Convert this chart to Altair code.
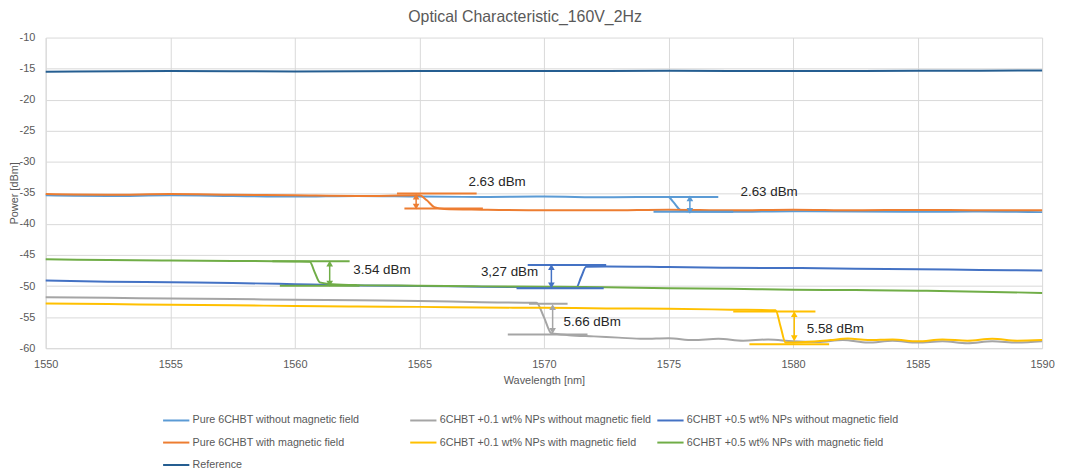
import altair as alt
import pandas as pd

# ---------------- data ----------------
SERIES = [
    "Pure 6CHBT without magnetic field",
    "6CHBT +0.1 wt% NPs without magnetic field",
    "6CHBT +0.5 wt% NPs without magnetic field",
    "Pure 6CHBT with magnetic field",
    "6CHBT +0.1 wt% NPs with magnetic field",
    "6CHBT +0.5 wt% NPs with magnetic field",
    "Reference",
]
COLORS = ["#5B9BD5", "#A5A5A5", "#4472C4", "#ED7D31", "#FFC000", "#70AD47", "#255E91"]

pure_off_x = [1550, 1552.5, 1555, 1557.5, 1560, 1562.5, 1565, 1567.5, 1570, 1572.5, 1575, 1575.2, 1575.5, 1576, 1577.5, 1580, 1582.5, 1585, 1587.5, 1590]
pure_off_y = [-35.4, -35.5, -35.4, -35.5, -35.6, -35.5, -35.6, -35.65, -35.6, -35.7, -35.65, -36.5, -37.8, -38.0, -38.05, -37.95, -38.0, -38.05, -38.0, -38.1]

pure_on_x = [1550, 1552.5, 1555, 1557.5, 1560, 1562.5, 1565, 1565.3, 1565.6, 1566, 1567.5, 1570, 1572.5, 1575, 1577.5, 1580, 1582.5, 1585, 1587.5, 1590]
pure_on_y = [-35.2, -35.3, -35.2, -35.3, -35.4, -35.5, -35.4, -36.2, -37.3, -37.6, -37.7, -37.8, -37.8, -37.7, -37.8, -37.7, -37.8, -37.75, -37.8, -37.8]

np01_off_x = [1550, 1552.5, 1555, 1557.5, 1560, 1562.5, 1565, 1567.5, 1569.7, 1570, 1570.3, 1571, 1572, 1573, 1574, 1575, 1576, 1577, 1578, 1579, 1580, 1581, 1582, 1583, 1584, 1585, 1586, 1587, 1588, 1589, 1590]
np01_off_y = [-51.8, -51.9, -52.0, -52.1, -52.2, -52.3, -52.4, -52.6, -52.7, -55.0, -57.6, -57.9, -58.1, -58.3, -58.5, -58.4, -58.7, -58.5, -58.8, -58.6, -58.9, -59.0, -58.7, -59.1, -58.8, -59.1, -58.9, -59.2, -58.9, -59.1, -58.9]

np01_on_x = [1550, 1552.5, 1555, 1557.5, 1560, 1562.5, 1565, 1567.5, 1570, 1572.5, 1575, 1577.5, 1579.3, 1579.5, 1579.7, 1580.5, 1581.5, 1582.2, 1583, 1584, 1585, 1586, 1587, 1588, 1589, 1590]
np01_on_y = [-52.8, -52.9, -53.0, -53.1, -53.2, -53.3, -53.35, -53.45, -53.5, -53.6, -53.65, -53.8, -53.9, -56.5, -59.1, -59.0, -58.7, -58.45, -58.7, -58.6, -58.9, -58.6, -58.8, -58.5, -58.8, -58.7]

np05_off_x = [1550, 1552.5, 1555, 1557.5, 1560, 1562.5, 1565, 1567.5, 1570, 1571.3, 1571.5, 1571.7, 1572.5, 1575, 1577.5, 1580, 1582.5, 1585, 1587.5, 1590]
np05_off_y = [-49.1, -49.3, -49.4, -49.5, -49.7, -49.9, -50.0, -50.1, -50.2, -50.25, -48.5, -46.9, -46.85, -46.95, -47.05, -47.1, -47.2, -47.3, -47.4, -47.5]

np05_on_x = [1550, 1552.5, 1555, 1557.5, 1560, 1560.6, 1560.8, 1561.0, 1561.5, 1562.5, 1565, 1567.5, 1570, 1572.5, 1575, 1577.5, 1580, 1582.5, 1585, 1587.5, 1590]
np05_on_y = [-45.7, -45.8, -45.9, -45.95, -46.05, -46.1, -47.8, -49.4, -49.7, -49.85, -49.95, -50.05, -50.1, -50.2, -50.35, -50.45, -50.6, -50.65, -50.75, -50.9, -51.1]

ref_x = [1550, 1555, 1560, 1565, 1570, 1575, 1580, 1585, 1590]
ref_y = [-15.5, -15.4, -15.45, -15.4, -15.4, -15.35, -15.4, -15.35, -15.3]

# annotation guide segments (horizontal level lines)
seg_series = [SERIES[3], SERIES[3], SERIES[0], SERIES[0], SERIES[5], SERIES[5],
              SERIES[2], SERIES[2], SERIES[1], SERIES[1], SERIES[4], SERIES[4]]
seg_x1 = [1564.1, 1564.4, 1573.85, 1574.4, 1559.1, 1559.4, 1569.35, 1568.9, 1569.4, 1568.55, 1577.6, 1578.25]
seg_x2 = [1567.3, 1567.55, 1577.0, 1577.6, 1562.2, 1562.6, 1572.5, 1572.4, 1570.95, 1571.75, 1580.9, 1581.45]
seg_y = [-35.1, -37.5, -35.65, -38.05, -46.0, -49.95, -46.6, -50.35, -52.85, -57.8, -54.1, -59.35]

# double arrows
arr_series = [SERIES[3], SERIES[0], SERIES[5], SERIES[2], SERIES[1], SERIES[4]]
arr_x = [1564.87, 1575.86, 1561.4, 1570.3, 1570.35, 1580.05]
arr_top = [-35.6, -35.9, -46.4, -46.95, -53.4, -54.5]
arr_bottom = [-37.2, -37.9, -49.6, -49.9, -57.2, -58.4]

# labels
lab_text = ["2.63 dBm", "2.63 dBm", "3.54 dBm", "3,27 dBm", "5.66 dBm", "5.58 dBm"]
lab_x = [1568.12, 1579.04, 1563.5, 1568.62, 1571.94, 1581.7]
lab_y = [-33.27, -34.85, -47.5, -47.8, -55.8, -56.85]

x_ticks = [1550, 1555, 1560, 1565, 1570, 1575, 1580, 1585, 1590]
y_ticks = [-60, -55, -50, -45, -40, -35, -30, -25, -20, -15, -10]

# ---------------- frames ----------------
series_data = [
    (SERIES[0], pure_off_x, pure_off_y),
    (SERIES[3], pure_on_x, pure_on_y),
    (SERIES[1], np01_off_x, np01_off_y),
    (SERIES[4], np01_on_x, np01_on_y),
    (SERIES[2], np05_off_x, np05_off_y),
    (SERIES[5], np05_on_x, np05_on_y),
    (SERIES[6], ref_x, ref_y),
]
rows = []
for name, xs, ys in series_data:
    for xv, yv in zip(xs, ys):
        rows.append({"series": name, "wl": xv, "p": yv})
df = pd.DataFrame(rows)

seg_df = pd.DataFrame({"series": seg_series, "x1": seg_x1, "x2": seg_x2, "y": seg_y})
arr_df = pd.DataFrame({"series": arr_series, "x": arr_x, "top": arr_top, "bottom": arr_bottom})
lab_df = pd.DataFrame({"text": lab_text, "x": lab_x, "y": lab_y})

FONT = "Liberation Sans"
GREY = "#595959"

color_scale = alt.Scale(domain=SERIES, range=COLORS)

xscale = alt.Scale(domain=[1550, 1590], nice=False, zero=False)
yscale = alt.Scale(domain=[-60, -10], nice=False, zero=False)

x_axis = alt.Axis(values=x_ticks, format="d", title="Wavelength [nm]", grid=True, ticks=False, tickSize=0,
                  labelPadding=10, titlePadding=6, labelFont=FONT, labelFontSize=11,
                  labelColor=GREY, titleFont=FONT, titleFontSize=11, titleColor=GREY,
                  titleFontWeight="normal", domainColor="#d9d9d9", gridColor="#d9d9d9",
                  labelFlush=False, labelOverlap=False)
y_axis = alt.Axis(values=y_ticks, labelExpr="datum.value + ''", title="Power [dBm]", grid=True,
                  ticks=False, tickSize=0,
                  labelPadding=11, titlePadding=0, labelFont=FONT, labelFontSize=11,
                  labelColor=GREY, titleFont=FONT, titleFontSize=11, titleColor=GREY,
                  titleFontWeight="normal", domainColor="#d9d9d9", gridColor="#d9d9d9",
                  labelFlush=False, labelOverlap=False)

legend = alt.Legend(orient="none", legendX=117, legendY=371, columns=3, direction="horizontal",
                    title=None, values=SERIES,
                    symbolType="stroke", symbolSize=700, symbolStrokeWidth=2,
                    labelFont=FONT, labelFontSize=10.8, labelColor=GREY, labelLimit=400,
                    gridAlign="all", columnPadding=1, rowPadding=2.6, labelOffset=2)

lines = alt.Chart(df).mark_line(strokeWidth=2, interpolate="monotone").encode(
    x=alt.X("wl:Q", scale=xscale, axis=x_axis),
    y=alt.Y("p:Q", scale=yscale, axis=y_axis),
    color=alt.Color("series:N", scale=color_scale, legend=legend),
)

segs = alt.Chart(seg_df).mark_rule(strokeWidth=2).encode(
    x=alt.X("x1:Q", scale=xscale, axis=x_axis),
    x2="x2:Q",
    y=alt.Y("y:Q", scale=yscale, axis=y_axis),
    color=alt.Color("series:N", scale=color_scale, legend=None),
)

arr_line = alt.Chart(arr_df).mark_rule(strokeWidth=1.5).encode(
    x=alt.X("x:Q", scale=xscale, axis=x_axis),
    y=alt.Y("top:Q", scale=yscale, axis=y_axis),
    y2="bottom:Q",
    color=alt.Color("series:N", scale=color_scale, legend=None),
)
arr_up = alt.Chart(arr_df).mark_point(shape="triangle-up", filled=True, size=45, opacity=1).encode(
    x=alt.X("x:Q", scale=xscale, axis=x_axis),
    y=alt.Y("top:Q", scale=yscale, axis=y_axis),
    color=alt.Color("series:N", scale=color_scale, legend=None),
)
arr_down = alt.Chart(arr_df).mark_point(shape="triangle-down", filled=True, size=45, opacity=1).encode(
    x=alt.X("x:Q", scale=xscale, axis=x_axis),
    y=alt.Y("bottom:Q", scale=yscale, axis=y_axis),
    color=alt.Color("series:N", scale=color_scale, legend=None),
)

labels = alt.Chart(lab_df).mark_text(font=FONT, fontSize=13.5, color="#262626",
                                     align="center", baseline="middle").encode(
    x=alt.X("x:Q", scale=xscale, axis=x_axis),
    y=alt.Y("y:Q", scale=yscale, axis=y_axis),
    text="text:N",
)

chart = alt.layer(lines, segs, arr_line, arr_up, arr_down, labels).properties(
    width=1004,
    height=313,
    autosize=alt.AutoSizeParams(type="none"),
    padding={"left": 38, "top": 28, "right": 15, "bottom": 126},
    title=alt.TitleParams("Optical Characteristic_160V_2Hz", font=FONT, fontSize=16,
                          color=GREY, fontWeight="normal", anchor="middle",
                          offset=7, dx=-19),
).configure_view(stroke=None)

chart.save("out.html", embed_options={"renderer": "svg", "actions": False})
